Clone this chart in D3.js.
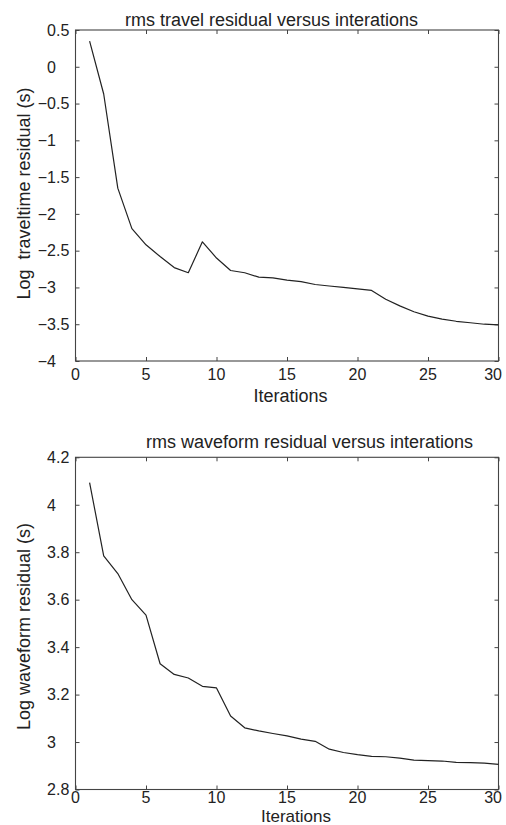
<!DOCTYPE html>
<html>
<head>
<meta charset="utf-8">
<script src="https://cdn.jsdelivr.net/npm/d3@7"></script>
<style>
  html, body { margin: 0; padding: 0; background: #fff; }
  svg { display: block; }
  text { font-family: "Liberation Sans", Arial, Helvetica, sans-serif; fill: #222; }
</style>
</head>
<body>
<svg id="chart" width="506" height="825"></svg>
<script>
// ---- data ----
const iterations = d3.range(1, 31);
const travelResidual = [0.35, -0.37, -1.65, -2.2, -2.42, -2.58, -2.73, -2.8, -2.38, -2.6,
  -2.77, -2.8, -2.86, -2.87, -2.9, -2.92, -2.96, -2.98, -3.0, -3.02,
  -3.04, -3.16, -3.25, -3.33, -3.39, -3.43, -3.46, -3.48, -3.5, -3.51];
const waveformResidual = [4.093, 3.785, 3.71, 3.6, 3.535, 3.33, 3.285, 3.27, 3.235, 3.228,
  3.11, 3.06, 3.047, 3.036, 3.026, 3.012, 3.003, 2.97, 2.956, 2.947,
  2.94, 2.938, 2.932, 2.924, 2.922, 2.92, 2.914, 2.913, 2.911, 2.906];
const xTicks = [0, 5, 10, 15, 20, 25, 30];
const yTicksTravel = ["0.5", "0", "-0.5", "-1", "-1.5", "-2", "-2.5", "-3", "-3.5", "-4"];
const yTicksWave = ["4.2", "4", "3.8", "3.6", "3.4", "3.2", "3", "2.8"];

const svg = d3.select("#chart");

function panel(opts) {
  const { values, yDomain, yTicks, top, bottom, title, titleX, titleY, ylabel, ylabelY, xlabelX, xlabelY, xlabelSize, tickLabelY } = opts;
  const left = 75.5, right = 498.5;
  const x = d3.scaleLinear().domain([0, 30]).range([left, right]);
  const y = d3.scaleLinear().domain(yDomain).range([bottom, top]);
  const g = svg.append("g");
  const axisColor = "#444";
  const tl = 4;

  // inner ticks on all four sides
  const axes = [
    { a: d3.axisBottom(x).tickValues(xTicks).tickSize(tl).tickFormat(""), t: `translate(0,${top})` },
    { a: d3.axisTop(x).tickValues(xTicks).tickSize(tl).tickFormat(""), t: `translate(0,${bottom})` },
    { a: d3.axisRight(y).tickValues(yTicks.map(Number)).tickSize(tl).tickFormat(""), t: `translate(${left},0)` },
    { a: d3.axisLeft(y).tickValues(yTicks.map(Number)).tickSize(tl).tickFormat(""), t: `translate(${right},0)` }
  ];
  axes.forEach(ax => {
    const ag = g.append("g").attr("transform", ax.t).call(ax.a);
    ag.select(".domain").remove();
    ag.selectAll("line").attr("stroke", axisColor).attr("stroke-width", 1);
  });
  // frame
  g.append("rect").attr("x", left).attr("y", top)
    .attr("width", right - left).attr("height", bottom - top)
    .attr("fill", "none").attr("stroke", axisColor).attr("stroke-width", 1.1);

  // y tick labels, aligned on the decimal point
  const pointX = 56;
  yTicks.forEach(s => {
    const v = Number(s);
    const parts = s.replace("-", "\u2212").split(".");
    g.append("text").attr("x", pointX).attr("y", y(v)).attr("dy", "0.36em")
      .attr("text-anchor", "end").attr("font-size", 16).text(parts[0]);
    if (parts.length > 1) {
      g.append("text").attr("x", pointX).attr("y", y(v)).attr("dy", "0.36em")
        .attr("text-anchor", "start").attr("font-size", 16).text("." + parts[1]);
    }
  });
  // x tick labels
  xTicks.forEach(v => {
    const t = g.append("text").attr("y", tickLabelY).attr("font-size", 16).text(v);
    if (x(v) + 10 > 502) t.attr("x", 502).attr("text-anchor", "end");
    else t.attr("x", x(v)).attr("text-anchor", "middle");
  });

  // line
  const line = d3.line().x((d, i) => x(iterations[i])).y(d => y(d));
  g.append("path").datum(values).attr("d", line)
    .attr("fill", "none").attr("stroke", "#222").attr("stroke-width", 1.2)
    .attr("stroke-linejoin", "round");

  // title and labels
  g.append("text").attr("x", titleX).attr("y", titleY).attr("text-anchor", "middle")
    .attr("font-size", 18).text(title);
  g.append("text").attr("x", xlabelX).attr("y", xlabelY).attr("text-anchor", "middle")
    .attr("font-size", xlabelSize).text("Iterations");
  g.append("text").attr("transform", `translate(30,${ylabelY}) rotate(-90)`)
    .attr("text-anchor", "middle").attr("font-size", 18)
    .style("white-space", "pre").text(ylabel);
}

panel({
  values: travelResidual, yDomain: [-4, 0.5], yTicks: yTicksTravel,
  top: 30, bottom: 361,
  title: "rms travel residual versus interations", titleX: 271.5, titleY: 26,
  ylabel: "Log  traveltime residual (s)", ylabelY: 193.5,
  xlabelX: 290.5, xlabelY: 401.5, xlabelSize: 18, tickLabelY: 380
});
panel({
  values: waveformResidual, yDomain: [2.8, 4.2], yTicks: yTicksWave,
  top: 457.3, bottom: 789.5,
  title: "rms waveform residual versus interations", titleX: 309.5, titleY: 448,
  ylabel: "Log waveform residual (s)", ylabelY: 626.5,
  xlabelX: 296, xlabelY: 822, xlabelSize: 17, tickLabelY: 803
});
</script>
</body>
</html>
